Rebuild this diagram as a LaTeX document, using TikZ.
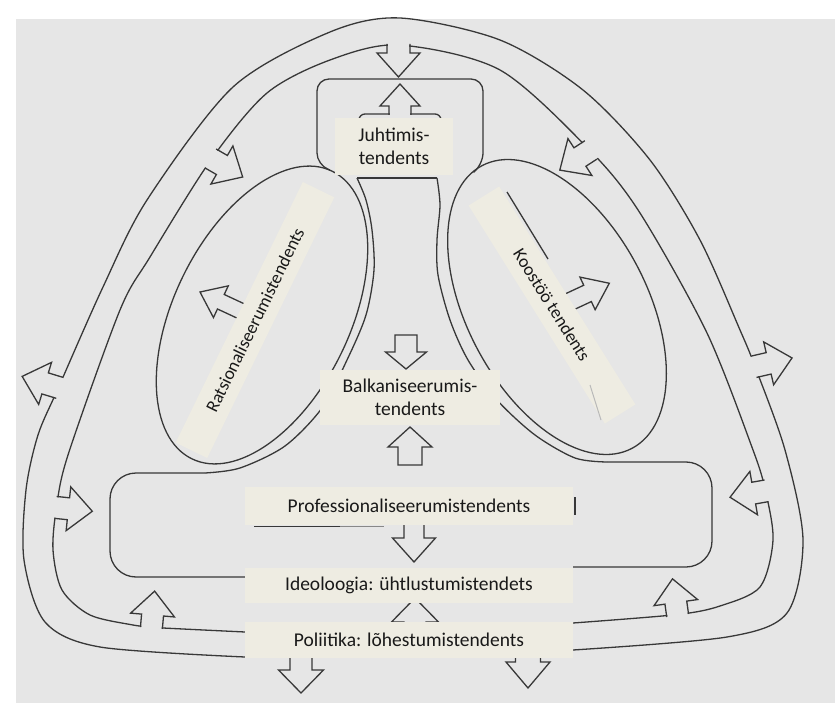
\documentclass[tikz,border=0pt]{standalone}
\usepackage{fontspec}
\setmainfont{Carlito}
\usepackage{xcolor}
\usepackage{tikz}

\definecolor{scan}{HTML}{E6E6E6}
\definecolor{note}{HTML}{EEECE2}
\definecolor{ink}{HTML}{383838}

\tikzset{
  figline/.style={draw=ink, line width=1.3pt},
  notebox/.style={fill=note, inner sep=0pt, align=center, text=black!90,
    font=\fontsize{19.5pt}{22.5pt}\selectfont},
  bandbox/.style={notebox, font=\fontsize{18pt}{21pt}\selectfont}
}

% arrow that sits in a line: base open
\newcommand{\notcharrow}[6]{%
  \begin{scope}[shift={#1}, rotate=#2]
    \fill[scan] (-6,-#5+0.8) rectangle (#3,#5-0.8);
    \fill[scan] (#3,-#6) -- (#3+#4,0) -- (#3,#6) -- cycle;
    \draw[figline] (-1,-#5) -- (#3,-#5) -- (#3,-#6) -- (#3+#4,0) -- (#3,#6) -- (#3,#5) -- (-1,#5);
  \end{scope}}
\newcommand{\solidarrow}[6]{%
  \begin{scope}[shift={#1}, rotate=#2]
    \filldraw[figline, fill=scan] (0,-#5) -- (#3,-#5) -- (#3,-#6) -- (#3+#4,0) -- (#3,#6) -- (#3,#5) -- (0,#5) -- cycle;
  \end{scope}}

\begin{document}
\begin{tikzpicture}[x=1pt, y=-1pt]
  \useasboundingbox (0,0) rectangle (835,711);
  \fill[white] (0,0) rectangle (835,711);
  \fill[scan] (16,19) rectangle (835,703);

  % outer band
  \draw[figline] plot[smooth] coordinates {(245,657) (100,647) (45,622) (24,560) (26,490) (38,435) (58.5,387.5) (103,287) (147,200) (233,87) (330,32) (400,18) (500,40) (583,90) (650,160) (700,240) (740,330) (755,366.5) (785,450) (803,540) (787,613) (727,637) (573,650)};
  \draw[figline] plot[smooth] coordinates {(245,632) (163,628) (151.5,627) (133,625) (90,615) (62,590) (53,550) (56.5,507.5) (68,455) (120,310) (150,257) (211.5,159) (267,93) (330,60) (398.5,45) (500,70) (590,150.5) (640,213) (707,333) (753,450) (765.5,491) (773,540) (760,587) (720,606) (677.5,614.5) (573,623)};
  \notcharrow{(398.5,45)}{-90}{8}{24}{11.5}{21.5}
  \notcharrow{(211.5,159)}{-30}{12}{24}{11}{22}
  \notcharrow{(590,150.5)}{-147}{12}{24}{11}{22}
  \notcharrow{(56.5,507.5)}{-6}{12}{24}{11}{22}
  \notcharrow{(765.5,491)}{-170}{12}{24}{11}{22}
  \notcharrow{(151.5,627)}{85}{12}{24}{11}{22}
  \notcharrow{(677.5,614.5)}{98}{12}{24}{11}{22}
  \notcharrow{(58.5,387.5)}{163}{14}{24}{11}{22}
  \notcharrow{(755,366.5)}{13}{14}{24}{11}{22}

  % ellipses and the middle figure
  \draw[figline, rotate around={64:(262,315)}] (262,315) ellipse [x radius=160, y radius=88];
  \draw[figline, rotate around={-62:(557,307)}] (557,307) ellipse [x radius=160, y radius=90];
  \draw[figline, rounded corners=12] (330,170) -- (317,165) -- (317,79) -- (483,79) -- (483,165) -- (474,172);
  \draw[figline, rounded corners=6] (359,126) -- (359,114) -- (441,114) -- (441,126);
  \notcharrow{(400,114)}{90}{8}{22}{11}{20}
  \draw[figline, rounded corners=26] (245,577) -- (110,577) -- (110,473) -- (205,473);
  \draw[figline] plot[smooth] coordinates {(205,473) (240,468) (285,446) (322,408) (347,360) (366,315) (374,270) (372,230) (366,200) (357,178)};
  \draw[figline] (357,178) -- (437,178);
  \draw[figline] plot[smooth] coordinates {(437,178) (440,205) (437,240) (438,275) (450,320) (468,360) (497,400) (535,435) (575,458) (607,462)};
  \draw[figline, rounded corners=26] (607,462) -- (712,462) -- (712,567) -- (573,567);

  \solidarrow{(406,335)}{-90}{17}{17}{11}{20.5}
  \solidarrow{(410,465)}{90}{18}{20}{12}{22}
  \solidarrow{(414,515)}{-90}{23}{24}{10}{21.5}
  \solidarrow{(243.5,312.3)}{155}{25}{23}{8}{17.5}
  \solidarrow{(567.6,302.7)}{25}{22}{24}{9}{18}
  \solidarrow{(301,645)}{-90}{25}{23}{11}{22.5}
  \solidarrow{(528,645)}{-90}{17}{26}{12.5}{22}
  \solidarrow{(415,640)}{90}{18}{24}{11}{23.5}

  % labels
  \node[notebox, minimum width=118pt, minimum height=57pt] (juht) at (394,146.5) {Juhtimis-\\tendents};
  \node[notebox, minimum width=180pt, minimum height=55pt] (balk) at (410,397.5) {Balkaniseerumis-\\tendents};
  \node[notebox, minimum width=328pt, minimum height=38pt] (prof) at (409,506) {Professionaliseerumistendents};
  \node[notebox, minimum width=328pt, minimum height=35pt] (ideo) at (409,585.5) {Ideoloogia: ühtlustumistendets};
  \node[notebox, minimum width=328pt, minimum height=36pt] (poli) at (409,640) {Poliitika: lõhestumistendents};
  \node[bandbox, rotate=64, minimum width=290pt, minimum height=35pt] (rats) at (255,320) {Ratsionaliseerumistendents};
  \node[bandbox, rotate=-58, minimum width=257pt, minimum height=36pt] (koos) at (552,305) {Koostöö tendents};

  \draw[figline, line width=1.8pt] (254,526.5) -- (340,526.5);
  \draw[ink!60, line width=1.3pt] (340,526.5) -- (384,526.5);
  \draw[figline, line width=2pt] (575,497) -- (575,515);
  \draw[figline] (507,192) -- (548,259);
  \draw[ink!35, line width=1pt] (590,385) -- (601,420);
\end{tikzpicture}
\end{document}
